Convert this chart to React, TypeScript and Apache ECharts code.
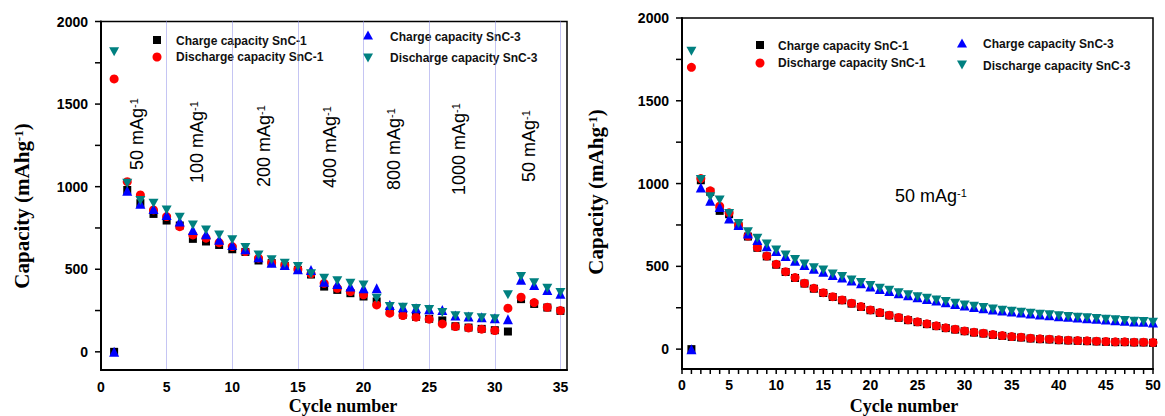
import React, { useEffect, useRef } from "react";
import * as echarts from "echarts";

// ---------- Data: left panel (rate capability) ----------
const cyclesA = [1, 2, 3, 4, 5, 6, 7, 8, 9, 10, 11, 12, 13, 14, 15, 16, 17, 18, 19, 20, 21, 22, 23, 24, 25, 26, 27, 28, 29, 30, 31, 32, 33, 34, 35];
const chargeSnC1A = [0, 980, 900, 835, 795, 765, 684, 668, 647, 621, 605, 553, 538, 520, 496, 468, 395, 375, 355, 335, 305, 245, 225, 212, 200, 190, 155, 147, 139, 131, 123, 319, 290, 268, 248];
const dischargeSnC1A = [1652, 1030, 950, 859, 819, 758, 708, 688, 661, 637, 607, 567, 540, 526, 500, 472, 415, 385, 365, 345, 284, 234, 220, 210, 198, 169, 153, 145, 137, 129, 264, 331, 298, 270, 250];
const chargeSnC3A = [0, 976, 896, 865, 829, 789, 738, 712, 678, 647, 621, 573, 540, 526, 500, 496, 425, 411, 395, 385, 385, 284, 270, 264, 258, 254, 220, 214, 210, 204, 198, 436, 405, 375, 351];
const dischargeSnC3A = [1817, 1021, 916, 900, 859, 815, 768, 738, 708, 678, 631, 587, 557, 537, 516, 472, 446, 431, 415, 405, 325, 274, 270, 262, 256, 238, 218, 212, 207, 200, 345, 456, 419, 385, 359];
const rateLabelsA = ["50", "100", "200", "400", "800", "1000", "50"];

// ---------- Data: right panel (cycling at 50 mA/g) ----------
const cyclesB = [1, 2, 3, 4, 5, 6, 7, 8, 9, 10, 11, 12, 13, 14, 15, 16, 17, 18, 19, 20, 21, 22, 23, 24, 25, 26, 27, 28, 29, 30, 31, 32, 33, 34, 35, 36, 37, 38, 39, 40, 41, 42, 43, 44, 45, 46, 47, 48, 49, 50];
const chargeSnC1B = [0, 1020, 950, 835, 815, 745, 680, 612, 560, 510, 466, 430, 396, 365, 339, 315, 295, 275, 255, 235, 219, 203, 189, 175, 163, 151, 139, 127, 118, 108, 100, 94, 86, 80, 74, 70, 64, 60, 58, 54, 52, 50, 48, 46, 44, 42, 42, 40, 40, 38];
const dischargeSnC1B = [1702, 1030, 956, 863, 823, 749, 683, 614, 562, 512, 468, 432, 398, 367, 341, 317, 297, 277, 257, 237, 221, 205, 191, 177, 165, 153, 141, 129, 120, 110, 102, 96, 88, 82, 76, 72, 66, 62, 60, 56, 54, 52, 50, 48, 46, 44, 44, 42, 42, 40];
const chargeSnC3B = [0, 976, 896, 859, 789, 749, 699, 659, 622, 592, 562, 534, 508, 486, 468, 448, 432, 414, 398, 378, 363, 351, 337, 325, 313, 303, 293, 283, 273, 263, 255, 247, 239, 233, 227, 221, 215, 209, 205, 199, 195, 191, 187, 183, 179, 175, 171, 167, 165, 161];
const dischargeSnC3B = [1799, 1024, 920, 900, 819, 759, 709, 669, 635, 598, 568, 542, 514, 492, 478, 454, 438, 418, 402, 384, 367, 355, 341, 329, 317, 307, 297, 287, 277, 267, 259, 251, 243, 235, 229, 223, 217, 211, 207, 201, 197, 193, 189, 185, 181, 177, 173, 169, 167, 163];

const yTicks = [0, 250, 500, 750, 1000, 1250, 1500, 1750, 2000];
const yLabels = [0, 500, 1000, 1500, 2000];
const yMinA = -110;
const yMinB = -120;

const seriesNames = [
  "Charge capacity SnC-1",
  "Discharge capacity SnC-1",
  "Charge capacity SnC-3",
  "Discharge capacity SnC-3",
];

const SANS = 'Arial, "Liberation Sans", sans-serif';
const SERIF = '"Times New Roman", "Liberation Serif", serif';
const INV_TRI = "path://M0,0L10,0L5,9Z";

const styles = [
  { symbol: "rect", size: 8, color: "#000000" },
  { symbol: "circle", size: 9, color: "#ff0000" },
  { symbol: "triangle", size: 10, color: "#0000ff" },
  { symbol: INV_TRI, size: [10, 9], color: "#008080" },
];

function pairs(xs: number[], ys: number[]) {
  return xs.map((x, i) => [x, ys[i]]);
}

export default function App() {
  const ref = useRef<HTMLDivElement>(null);

  useEffect(() => {
    if (!ref.current) return;
    const chart = echarts.init(ref.current, null, { renderer: "svg" });

    const axisLabelStyle = {
      color: "#000",
      fontFamily: SANS,
      fontWeight: "bold" as const,
      fontSize: 14,
      formatter: (v: number) => String(v),
    };

    const makeY = (gridIndex: number, min: number) => ({
      type: "value",
      gridIndex,
      min,
      max: 2000,
      axisLine: { show: true, onZero: false, lineStyle: { color: "#000", width: 2 } },
      axisTick: { show: false },
      axisLabel: { ...axisLabelStyle, customValues: yLabels, margin: 13 },
      splitLine: { show: false },
    });

    const leftSets = [chargeSnC1A, dischargeSnC1A, chargeSnC3A, dischargeSnC3A];
    const rightSets = [chargeSnC1B, dischargeSnC1B, chargeSnC3B, dischargeSnC3B];

    const series: any[] = [];
    leftSets.forEach((ys, i) => {
      series.push({
        type: "scatter",
        name: seriesNames[i],
        xAxisIndex: 0,
        yAxisIndex: 0,
        symbol: styles[i].symbol,
        symbolSize: styles[i].size,
        itemStyle: { color: styles[i].color, opacity: 1 },
        data: pairs(cyclesA, ys),
        z: 3 + i,
      });
    });
    rightSets.forEach((ys, i) => {
      series.push({
        type: "scatter",
        name: seriesNames[i],
        xAxisIndex: 1,
        yAxisIndex: 1,
        symbol: styles[i].symbol,
        symbolSize: styles[i].size,
        itemStyle: { color: styles[i].color, opacity: 1 },
        data: pairs(cyclesB, ys),
        z: 3 + i,
      });
    });

    const rich = (size: number, weight: string, family: string) => ({
      m: { fontSize: size, fontWeight: weight, fontFamily: family, fill: "#000" },
      s: { fontSize: Math.round(size * 0.6), fontWeight: weight, fontFamily: family, verticalAlign: "top", fill: "#000" },
    });

    const legendBlock = (entries: { cx: number; cy: number; tx: number; ty: number; idx: number }[]) =>
      entries.flatMap((e) => {
        const c = styles[e.idx].color;
        let shape: any;
        if (e.idx === 0) shape = { type: "rect", shape: { x: e.cx - 4, y: e.cy - 4, width: 8, height: 8 }, style: { fill: c } };
        else if (e.idx === 1) shape = { type: "circle", shape: { cx: e.cx, cy: e.cy, r: 4.5 }, style: { fill: c } };
        else if (e.idx === 2)
          shape = { type: "polygon", shape: { points: [[e.cx - 5, e.cy + 4.5], [e.cx + 5, e.cy + 4.5], [e.cx, e.cy - 4.5]] }, style: { fill: c } };
        else
          shape = { type: "polygon", shape: { points: [[e.cx - 5, e.cy - 4.5], [e.cx + 5, e.cy - 4.5], [e.cx, e.cy + 4.5]] }, style: { fill: c } };
        return [
          shape,
          {
            type: "text",
            x: e.tx,
            y: e.ty,
            style: {
              text: seriesNames[e.idx],
              fill: "#111",
              font: `bold 12px ${SANS}`,
              align: "left",
              verticalAlign: "middle",
            },
          },
        ];
      });

    const ratePos = [
      [137, 170],
      [197, 183],
      [264, 187],
      [330, 188],
      [394, 190],
      [459, 195],
      [529, 182],
    ];

    const graphic: any[] = [
      ...legendBlock([
        { cx: 157, cy: 40, tx: 176, ty: 41, idx: 0 },
        { cx: 157, cy: 57, tx: 176, ty: 57, idx: 1 },
        { cx: 368, cy: 35, tx: 390, ty: 37, idx: 2 },
        { cx: 368, cy: 58, tx: 390, ty: 58, idx: 3 },
        { cx: 760, cy: 45, tx: 778, ty: 46, idx: 0 },
        { cx: 760, cy: 63, tx: 778, ty: 63, idx: 1 },
        { cx: 962, cy: 43, tx: 983, ty: 44, idx: 2 },
        { cx: 962, cy: 65, tx: 983, ty: 66, idx: 3 },
      ]),
      ...rateLabelsA.map((r, i) => ({
        type: "text",
        x: ratePos[i][0],
        y: ratePos[i][1],
        rotation: Math.PI / 2,
        style: {
          text: `{m|${r} mAg}{s|-1}`,
          rich: rich(18, "normal", SANS),
          align: "left",
          verticalAlign: "middle",
        },
      })),
      {
        type: "text",
        x: 895,
        y: 196,
        style: {
          text: "{m|50 mAg}{s|-1}",
          rich: rich(18, "normal", SANS),
          align: "left",
          verticalAlign: "middle",
        },
      },
      {
        type: "text",
        x: 22,
        y: 206,
        rotation: Math.PI / 2,
        style: {
          text: "{m|Capacity (mAhg}{s|-1}{m|)}",
          rich: rich(21, "bold", SERIF),
          align: "center",
          verticalAlign: "middle",
        },
      },
      {
        type: "text",
        x: 596,
        y: 192,
        rotation: Math.PI / 2,
        style: {
          text: "{m|Capacity (mAhg}{s|-1}{m|)}",
          rich: rich(21, "bold", SERIF),
          align: "center",
          verticalAlign: "middle",
        },
      },
      {
        type: "text",
        x: 343,
        y: 406,
        style: { text: "Cycle number", font: `bold 18px ${SERIF}`, fill: "#000", align: "center", verticalAlign: "middle" },
      },
      {
        type: "text",
        x: 904,
        y: 406,
        style: { text: "Cycle number", font: `bold 18px ${SERIF}`, fill: "#000", align: "center", verticalAlign: "middle" },
      },
    ];

    chart.setOption({
      animation: false,
      backgroundColor: "#ffffff",
      grid: [
        { left: 101, top: 21.5, width: 466, height: 348.5, show: true, borderColor: "#000", borderWidth: 1.5, backgroundColor: "transparent" },
        { left: 682, top: 18, width: 471, height: 351, show: true, borderColor: "#000", borderWidth: 1.5, backgroundColor: "transparent" },
      ],
      xAxis: [
        {
          type: "value",
          gridIndex: 0,
          min: 0,
          max: 35.5,
          interval: 5,
          axisLine: { show: true, onZero: false, lineStyle: { color: "#000", width: 2 } },
          axisTick: { show: false },
          axisLabel: { ...axisLabelStyle, showMaxLabel: false, margin: 10 },
          splitLine: { show: true, showMinLine: false, showMaxLine: false, lineStyle: { type: "dotted", color: "#8a8ae6", width: 1 } },
        },
        {
          type: "value",
          gridIndex: 1,
          min: 0,
          max: 50,
          interval: 5,
          axisLine: { show: true, onZero: false, lineStyle: { color: "#000", width: 2 } },
          axisTick: { show: false },
          axisLabel: { ...axisLabelStyle, margin: 9 },
          splitLine: { show: false },
        },
      ],
      yAxis: [makeY(0, yMinA), makeY(1, yMinB)],
      series,
      graphic,
    });

    // Outward tick marks, positioned through the axes' own scales.
    const tickStyle = { stroke: "#000", lineWidth: 1.5 };
    const ticks: any[] = [];
    [0, 1].forEach((gi) => {
      const axisX = chart.convertToPixel({ xAxisIndex: gi }, 0) as number;
      yTicks.forEach((v) => {
        const py = chart.convertToPixel({ yAxisIndex: gi }, v) as number;
        ticks.push({ type: "line", shape: { x1: axisX - 6, y1: py, x2: axisX, y2: py }, style: tickStyle, silent: true });
      });
    });
    const bottomB = chart.convertToPixel({ yAxisIndex: 1 }, yMinB) as number;
    cyclesB.forEach((c) => {
      const px = chart.convertToPixel({ xAxisIndex: 1 }, c) as number;
      ticks.push({ type: "line", shape: { x1: px, y1: bottomB, x2: px, y2: bottomB + 5 }, style: tickStyle, silent: true });
    });
    const px0 = chart.convertToPixel({ xAxisIndex: 1 }, 0) as number;
    ticks.push({ type: "line", shape: { x1: px0, y1: bottomB, x2: px0, y2: bottomB + 5 }, style: tickStyle, silent: true });

    chart.setOption({ graphic: [...graphic, ...ticks] });

    return () => chart.dispose();
  }, []);

  return (
    <div
      ref={ref}
      style={{ position: "fixed", left: 0, top: 0, width: 1165, height: 416, background: "#fff" }}
    />
  );
}
